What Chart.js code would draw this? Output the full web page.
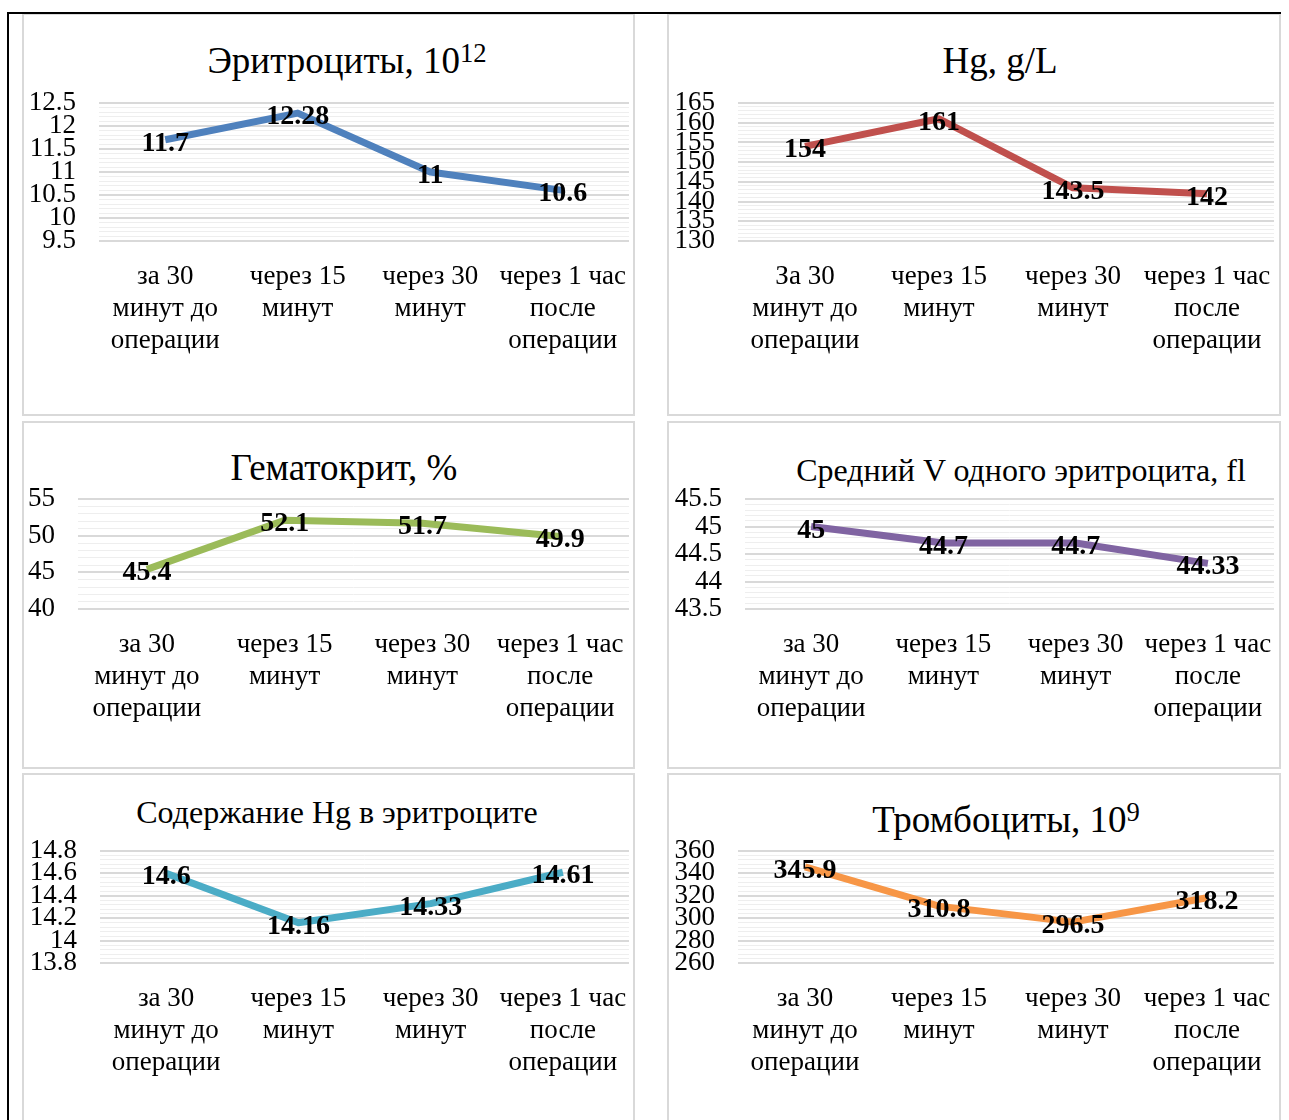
<!DOCTYPE html>
<html><head><meta charset="utf-8">
<script src="https://cdn.jsdelivr.net/npm/chart.js@4.4.0/dist/chart.umd.min.js"></script>
<style>
html,body{margin:0;padding:0;background:#fff;overflow:hidden;width:1289px;height:1120px;}
body{position:relative;font-family:"Liberation Serif",serif;}
.panel{position:absolute;box-sizing:border-box;border:2px solid #d9d9d9;background:#fff;}
canvas{position:absolute;}
.title{position:absolute;white-space:nowrap;transform:translateX(-50%);color:#000;}
.title sup{font-size:0.72em;vertical-align:baseline;position:relative;top:-0.42em;line-height:0;}
#frameTop{position:absolute;left:7px;top:12px;width:1274px;height:2px;background:#000;}
#frameLeft{position:absolute;left:7px;top:12px;width:2px;height:1108px;background:#000;}
</style></head>
<body>
<div class="panel" style="left:22px;top:13px;width:613px;height:403px"></div>
<div class="panel" style="left:667px;top:13px;width:614px;height:403px"></div>
<div class="panel" style="left:22px;top:421px;width:613px;height:348px"></div>
<div class="panel" style="left:667px;top:421px;width:614px;height:348px"></div>
<div class="panel" style="left:22px;top:773px;width:613px;height:360px"></div>
<div class="panel" style="left:667px;top:773px;width:614px;height:360px"></div>
<div id="frameTop"></div><div id="frameLeft"></div>

<div class="title" style="left:347px;top:42px;font-size:37px;line-height:37px">Эритроциты, 10<sup>12</sup></div>
<div class="title" style="left:1000px;top:42px;font-size:37px;line-height:37px">Hg, g/L</div>
<div class="title" style="left:344px;top:449px;font-size:37px;line-height:37px">Гематокрит, %</div>
<div class="title" style="left:1021px;top:454px;font-size:32px;line-height:32px">Средний V одного эритроцита, fl</div>
<div class="title" style="left:337px;top:796px;font-size:32px;line-height:32px">Содержание Hg в эритроците</div>
<div class="title" style="left:1006px;top:801px;font-size:37px;line-height:37px">Тромбоциты, 10<sup>9</sup></div>

<canvas id="c1" width="635" height="303" style="left:19px;top:58px"></canvas>
<canvas id="c2" width="641" height="303" style="left:658px;top:58px"></canvas>
<canvas id="c3" width="656" height="275" style="left:-2px;top:454px"></canvas>
<canvas id="c4" width="634" height="275" style="left:665px;top:454px"></canvas>
<canvas id="c5" width="634" height="277" style="left:20px;top:806px"></canvas>
<canvas id="c6" width="641" height="277" style="left:658px;top:806px"></canvas>

<script>
// ---- data ----
const categories = [["за 30","минут до","операции"],["через 15","минут"],["через 30","минут"],["через 1 час","после","операции"]];
const categoriesHg = [["За 30","минут до","операции"],["через 15","минут"],["через 30","минут"],["через 1 час","после","операции"]];

const erythrocytes = [11.7, 12.28, 11, 10.6];
const hemoglobin = [154, 161, 143.5, 142];
const hematocrit = [45.4, 52.1, 51.7, 49.9];
const meanVolume = [45, 44.7, 44.7, 44.33];
const hgContent = [14.6, 14.16, 14.33, 14.61];
const platelets = [345.9, 310.8, 296.5, 318.2];

// axis ranges: [min, max, major step, minor step]
const axisErythrocytes = [9.5, 12.5, 0.5, 0.1];
const axisHemoglobin = [130, 165, 5, 1];
const axisHematocrit = [40, 55, 5, 1];
const axisMeanVolume = [43.5, 45.5, 0.5, 0.1];
const axisHgContent = [13.8, 14.8, 0.2, 0.04];
const axisPlatelets = [260, 360, 20, 4];

// ---- drawing ----
const FONT = '"Liberation Serif"';
const valueLabels = {
  id: 'valueLabels',
  afterDatasetsDraw(chart) {
    const ctx = chart.ctx;
    const ds = chart.data.datasets[0];
    const meta = chart.getDatasetMeta(0);
    ctx.save();
    ctx.font = 'bold 28px ' + FONT;
    ctx.fillStyle = '#000';
    ctx.textAlign = 'center';
    ctx.textBaseline = 'alphabetic';
    meta.data.forEach((pt, i) => {
      ctx.fillText(String(ds.data[i]), pt.x, pt.y + 11);
    });
    ctx.restore();
  }
};

function makeChart(id, labels, values, color, axis) {
  const [min, max, major, minor] = axis;
  const isMajor = v => Math.abs(v / major - Math.round(v / major)) < 1e-6;
  return new Chart(document.getElementById(id), {
    type: 'line',
    data: { labels: labels, datasets: [{ data: values, borderColor: color, backgroundColor: color,
      borderWidth: 7, pointRadius: 0, pointHoverRadius: 0, tension: 0, borderJoinStyle: 'round', fill: false }] },
    options: {
      responsive: false, animation: false, devicePixelRatio: 1,
      layout: { padding: { top: 45, right: 25, bottom: 0, left: 0 } },
      plugins: { legend: { display: false }, tooltip: { enabled: false }, title: { display: false } },
      scales: {
        x: {
          offset: true,
          grid: { display: false, drawTicks: false },
          border: { display: false },
          ticks: { color: '#000', font: { family: FONT, size: 27, lineHeight: 32/27 }, padding: 20, maxRotation: 0, minRotation: 0, autoSkip: false },
          afterFit: s => { s.height = 120; }
        },
        y: {
          min: min, max: max,
          grid: { drawTicks: false,
            color: c => isMajor(c.tick.value) ? '#d9d9d9' : '#eeeeee',
            lineWidth: c => isMajor(c.tick.value) ? 2 : 1 },
          border: { display: false },
          ticks: { stepSize: minor, autoSkip: false, color: '#000', padding: 23,
            font: { family: FONT, size: 27 },
            callback: v => isMajor(v) ? String(Math.round(v * 1000) / 1000) : '' },
          afterFit: s => { s.width = 80; }
        }
      }
    },
    plugins: [valueLabels]
  });
}

makeChart('c1', categories, erythrocytes, '#4f81bd', axisErythrocytes);
makeChart('c2', categoriesHg, hemoglobin, '#c0504d', axisHemoglobin);
makeChart('c3', categories, hematocrit, '#9bbb59', axisHematocrit);
makeChart('c4', categories, meanVolume, '#8064a2', axisMeanVolume);
makeChart('c5', categories, hgContent, '#4bacc6', axisHgContent);
makeChart('c6', categories, platelets, '#f79646', axisPlatelets);
</script>
</body></html>
